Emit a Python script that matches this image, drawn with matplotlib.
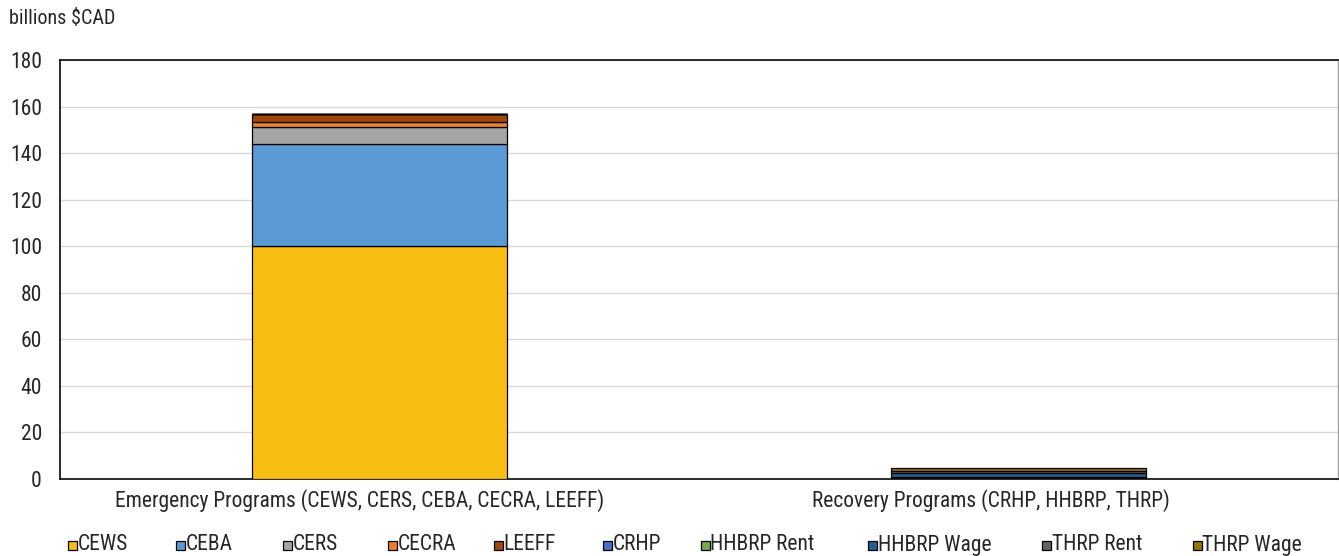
import matplotlib
matplotlib.use("Agg")
import matplotlib.pyplot as plt
import matplotlib.transforms as mtransforms
from matplotlib.patches import Rectangle
import numpy as np

plt.rcParams['font.family'] = ['Roboto Condensed', 'Roboto', 'DejaVu Sans']

categories = ["Emergency Programs (CEWS, CERS, CEBA, CECRA, LEEFF)",
              "Recovery Programs (CRHP, HHBRP, THRP)"]
series_names = ["CEWS", "CEBA", "CERS", "CECRA", "LEEFF",
                "CRHP", "HHBRP Rent", "HHBRP Wage", "THRP Rent", "THRP Wage"]
cews = [100.0, 0.0]
ceba = [43.9, 0.0]
cers = [7.4, 0.0]
cecra = [2.0, 0.0]
leeff = [3.3, 0.0]
crhp = [0.0, 0.6]
hhbrp_rent = [0.0, 0.1]
hhbrp_wage = [0.0, 1.8]
thrp_rent = [0.0, 1.0]
thrp_wage = [0.0, 1.3]
series_values = [cews, ceba, cers, cecra, leeff, crhp,
                 hhbrp_rent, hhbrp_wage, thrp_rent, thrp_wage]
colors = ["#F9BE14", "#5B9BD5", "#A5A5A5", "#ED7D31", "#9E480E",
          "#4472C4", "#70AD47", "#255E91", "#636363", "#997300"]
yticks = [0, 20, 40, 60, 80, 100, 120, 140, 160, 180]

W, H = 1339, 556
fig = plt.figure(figsize=(W / 100, H / 100), dpi=100)
ax = fig.add_axes([60 / W, (H - 479) / H, 1278 / W, 419 / H])

text_color = "#262626"
fs = 15.5
x = np.arange(len(categories))
bottom = np.zeros(len(categories))
for vals, col in zip(series_values, colors):
    v = np.array(vals)
    ax.bar(x, v, width=0.4, bottom=bottom, color=col,
           edgecolor="black", linewidth=0.9, zorder=3)
    bottom += v

ax.set_xlim(-0.5, 1.5)
ax.set_ylim(0, 180)
ax.set_yticks(yticks)
ax.set_yticklabels([str(t) for t in yticks], fontsize=fs, color=text_color)
ax.set_xticks(x)
ax.set_xticklabels(categories, fontsize=fs, color=text_color)
ax.tick_params(axis='both', length=0)
ax.tick_params(axis='y', pad=13)
ax.tick_params(axis='x', pad=7)
ax.grid(axis='y', color="#D9D9D9", linewidth=1, zorder=0)

# nudge category labels slightly left
for lbl, dx in zip(ax.get_xticklabels(), [-20, -28]):
    lbl.set_transform(lbl.get_transform() +
                      mtransforms.ScaledTranslation(dx / 100, 0, fig.dpi_scale_trans))

for side in ("left", "bottom", "top"):
    ax.spines[side].set_color("#1a1a1a")
    ax.spines[side].set_linewidth(1.3)
ax.spines["right"].set_color("#A0A0A0")
ax.spines["right"].set_linewidth(1.0)

fig.text(9 / W, 1 - 18 / H, "billions $CAD", fontsize=14.5,
         color=text_color, va="center", ha="left")

# legend row along the bottom
leg_x = [72, 180, 287, 392, 498, 607, 705, 872, 1046, 1197]
leg_y = 545
sq = 9
for name, col, lx in zip(series_names, colors, leg_x):
    fig.add_artist(Rectangle(((lx - sq / 2) / W, (H - leg_y - sq / 2) / H),
                             sq / W, sq / H, transform=fig.transFigure,
                             facecolor=col, edgecolor="black", linewidth=0.9))
    fig.text((lx + sq / 2 + 1) / W, (H - leg_y) / H, name, fontsize=fs,
             color=text_color, va="center", ha="left")

fig.savefig("out.png", dpi=100)
